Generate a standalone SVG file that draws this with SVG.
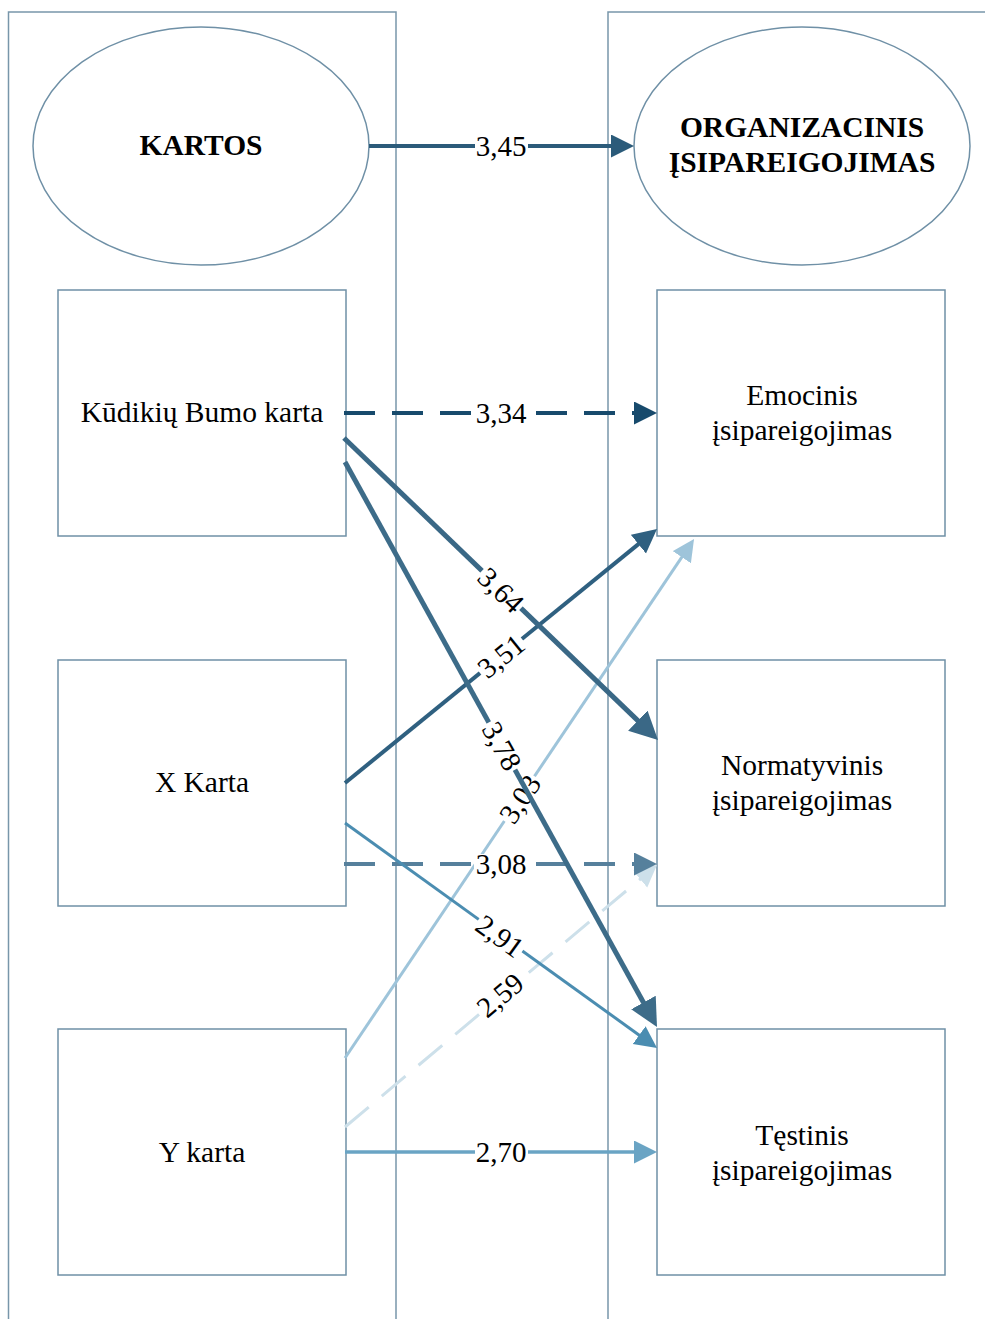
<svg xmlns="http://www.w3.org/2000/svg" width="985" height="1319" viewBox="0 0 985 1319">
  <style>
    .lane { fill: none; stroke: #7896aa; stroke-width: 1.5; }
    .node { fill: #ffffff; stroke: #6f90a6; stroke-width: 1.5; }
    .t { font-family: "Liberation Serif", "Times New Roman", serif; font-size: 29.5px; fill: #000; text-anchor: middle; }
    .b { font-weight: bold; }
    .lbl { font-family: "Liberation Serif", "Times New Roman", serif; font-size: 29px; fill: #000; text-anchor: middle; dominant-baseline: central; }
    .gap { fill: #ffffff; }
    .c { fill: none; stroke-linecap: butt; }
    .dash { stroke-dasharray: 31 17; }
  </style>
  <defs>
    <marker id="m345" markerUnits="userSpaceOnUse" markerWidth="24" markerHeight="24" refX="4" refY="11.5" orient="auto"><path d="M0,0 L23,11.5 L0,23 z" fill="#2b5b7a"/></marker>
    <marker id="m334" markerUnits="userSpaceOnUse" markerWidth="24" markerHeight="24" refX="4" refY="11.5" orient="auto"><path d="M0,0 L23,11.5 L0,23 z" fill="#174a6c"/></marker>
    <marker id="m364" markerUnits="userSpaceOnUse" markerWidth="30" markerHeight="30" refX="4" refY="14" orient="auto"><path d="M0,0 L28,14 L0,28 z" fill="#3a6886"/></marker>
    <marker id="m378" markerUnits="userSpaceOnUse" markerWidth="30" markerHeight="30" refX="4" refY="14" orient="auto"><path d="M0,0 L28,14 L0,28 z" fill="#3d6c89"/></marker>
    <marker id="m351" markerUnits="userSpaceOnUse" markerWidth="26" markerHeight="26" refX="4" refY="12" orient="auto"><path d="M0,0 L24,12 L0,24 z" fill="#2f6080"/></marker>
    <marker id="m303" markerUnits="userSpaceOnUse" markerWidth="24" markerHeight="24" refX="4" refY="11" orient="auto"><path d="M0,0 L22,11 L0,22 z" fill="#9ec4da"/></marker>
    <marker id="m308" markerUnits="userSpaceOnUse" markerWidth="24" markerHeight="24" refX="4" refY="11.5" orient="auto"><path d="M0,0 L23,11.5 L0,23 z" fill="#56809c"/></marker>
    <marker id="m291" markerUnits="userSpaceOnUse" markerWidth="24" markerHeight="24" refX="4" refY="11" orient="auto"><path d="M0,0 L22,11 L0,22 z" fill="#4b8db1"/></marker>
    <marker id="m259" markerUnits="userSpaceOnUse" markerWidth="24" markerHeight="24" refX="4" refY="11" orient="auto"><path d="M0,0 L22,11 L0,22 z" fill="#cde0ea"/></marker>
    <marker id="m270" markerUnits="userSpaceOnUse" markerWidth="24" markerHeight="24" refX="4" refY="11.5" orient="auto"><path d="M0,0 L23,11.5 L0,23 z" fill="#6aa4c4"/></marker>
  </defs>

  <rect width="985" height="1319" fill="#ffffff"/>

  <!-- swimlanes -->
  <g id="lanes">
    <path class="lane" d="M8.5,1330 V12 H396 V1330"/>
    <path class="lane" d="M608,1330 V12 H995"/>
  </g>

  <!-- left column -->
  <g id="kartos">
    <ellipse class="node" cx="201" cy="146" rx="168" ry="119"/>
    <text class="t b" x="201" y="155">KARTOS</text>
  </g>
  <g id="kudikiu">
    <rect class="node" x="58" y="290" width="288" height="246"/>
    <text class="t" x="202" y="422">Kūdikių Bumo karta</text>
  </g>
  <g id="x-karta">
    <rect class="node" x="58" y="660" width="288" height="246"/>
    <text class="t" x="202" y="792">X Karta</text>
  </g>
  <g id="y-karta">
    <rect class="node" x="58" y="1029" width="288" height="246"/>
    <text class="t" x="202" y="1162">Y karta</text>
  </g>

  <!-- right column -->
  <g id="organizacinis">
    <ellipse class="node" cx="802" cy="146" rx="168" ry="119"/>
    <text class="t b" x="802" y="137">ORGANIZACINIS</text>
    <text class="t b" x="802" y="172">ĮSIPAREIGOJIMAS</text>
  </g>
  <g id="emocinis">
    <rect class="node" x="657" y="290" width="288" height="246"/>
    <text class="t" x="802" y="405">Emocinis</text>
    <text class="t" x="802" y="440">įsipareigojimas</text>
  </g>
  <g id="normatyvinis">
    <rect class="node" x="657" y="660" width="288" height="246"/>
    <text class="t" x="802" y="775">Normatyvinis</text>
    <text class="t" x="802" y="810">įsipareigojimas</text>
  </g>
  <g id="testinis">
    <rect class="node" x="657" y="1029" width="288" height="246"/>
    <text class="t" x="802" y="1145">Tęstinis</text>
    <text class="t" x="802" y="1180">įsipareigojimas</text>
  </g>

  <!-- connectors with their values -->
  <g id="connectors">
    <g id="e-345">
      <line class="c" x1="369" y1="146" x2="615" y2="146" stroke="#2b5b7a" stroke-width="4" marker-end="url(#m345)"/>
      <rect class="gap" x="475" y="136" width="53" height="20"/>
      <text class="lbl" x="501" y="146">3,45</text>
    </g>
    <g id="e-334">
      <line class="c dash" x1="344" y1="413" x2="638" y2="413" stroke="#174a6c" stroke-width="4" marker-end="url(#m334)"/>
      <rect class="gap" x="474" y="403" width="55" height="20"/>
      <text class="lbl" x="501" y="413">3,34</text>
    </g>
    <g id="e-303">
      <line class="c" x1="345" y1="1058" x2="684" y2="553.9" stroke="#9ec4da" stroke-width="3" marker-end="url(#m303)"/>
      <g transform="translate(520,799) rotate(-56)">
        <rect class="gap" x="-27" y="-8" width="54" height="16"/>
        <text class="lbl" x="0" y="0">3,03</text>
      </g>
    </g>
    <g id="e-259">
      <line class="c dash" x1="345" y1="1127" x2="643.2" y2="876.6" stroke="#cde0ea" stroke-width="3" marker-end="url(#m259)"/>
      <g transform="translate(500,995) rotate(-40)">
        <rect class="gap" x="-27" y="-8" width="54" height="16"/>
        <text class="lbl" x="0" y="0">2,59</text>
      </g>
    </g>
    <g id="e-308">
      <line class="c dash" x1="344" y1="864" x2="638" y2="864" stroke="#56809c" stroke-width="4" marker-end="url(#m308)"/>
      <rect class="gap" x="474" y="854" width="55" height="20"/>
      <text class="lbl" x="501" y="864">3,08</text>
    </g>
    <g id="e-291">
      <line class="c" x1="345" y1="823" x2="642.4" y2="1037.5" stroke="#4b8db1" stroke-width="3" marker-end="url(#m291)"/>
      <g transform="translate(500,936) rotate(35.8)">
        <rect class="gap" x="-27" y="-8" width="54" height="16"/>
        <text class="lbl" x="0" y="0">2,91</text>
      </g>
    </g>
    <g id="e-270">
      <line class="c" x1="345" y1="1152" x2="638" y2="1152" stroke="#6aa4c4" stroke-width="3.5" marker-end="url(#m270)"/>
      <rect class="gap" x="475" y="1142" width="53" height="20"/>
      <text class="lbl" x="501" y="1152">2,70</text>
    </g>
    <g id="e-351">
      <line class="c" x1="345" y1="783" x2="641.5" y2="541.6" stroke="#2f6080" stroke-width="4" marker-end="url(#m351)"/>
      <g transform="translate(501,656) rotate(-39)">
        <rect class="gap" x="-27" y="-8" width="54" height="16"/>
        <text class="lbl" x="0" y="0">3,51</text>
      </g>
    </g>
    <g id="e-364">
      <line class="c" x1="344" y1="438" x2="640.7" y2="723.4" stroke="#3a6886" stroke-width="5" marker-end="url(#m364)"/>
      <g transform="translate(501,590) rotate(44)">
        <rect class="gap" x="-27" y="-8" width="54" height="16"/>
        <text class="lbl" x="0" y="0">3,64</text>
      </g>
    </g>
    <g id="e-378">
      <line class="c" x1="345" y1="462" x2="645.4" y2="1006" stroke="#3d6c89" stroke-width="5" marker-end="url(#m378)"/>
      <g transform="translate(502,746) rotate(61)">
        <rect class="gap" x="-27" y="-8" width="54" height="16"/>
        <text class="lbl" x="0" y="0">3,78</text>
      </g>
    </g>
  </g>
</svg>
